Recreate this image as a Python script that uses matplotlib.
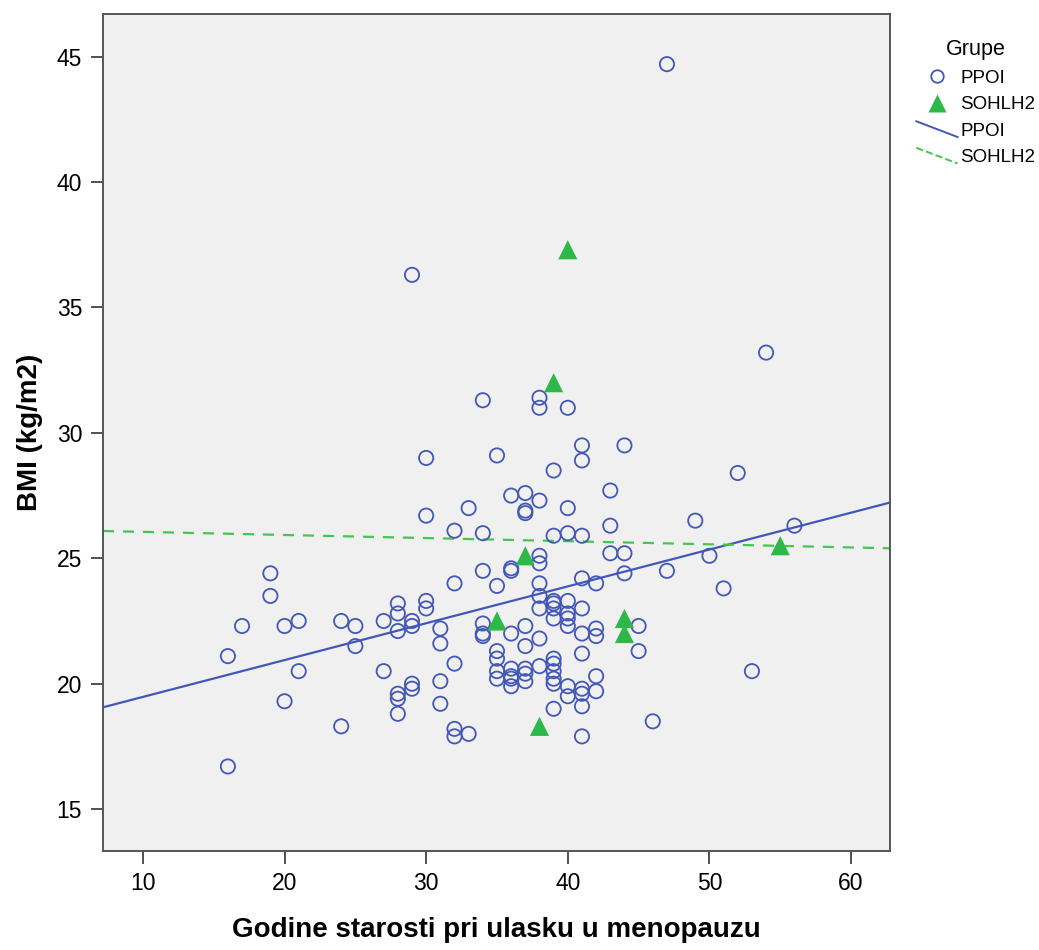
import numpy as np
import matplotlib
matplotlib.use("Agg")
import matplotlib.pyplot as plt
from matplotlib.lines import Line2D
from matplotlib.legend_handler import HandlerLine2D

# Age at menopause (years) and BMI (kg/m2), group PPOI
ppoi_age = [16, 16, 17, 19, 19, 20, 20, 21, 21, 24, 24, 25, 25, 27, 27,
            28, 28, 28, 28, 28, 28, 29, 29, 29, 29, 29, 30, 30, 30, 30,
            31, 31, 31, 31, 32, 32, 32, 32, 32, 33, 33,
            34, 34, 34, 34, 34, 34, 35, 35, 35, 35, 35, 35,
            36, 36, 36, 36, 36, 36, 36, 36,
            37, 37, 37, 37, 37, 37, 37, 37,
            38, 38, 38, 38, 38, 38, 38, 38, 38, 38,
            39, 39, 39, 39, 39, 39, 39, 39, 39, 39, 39, 39,
            40, 40, 40, 40, 40, 40, 40, 40, 40,
            41, 41, 41, 41, 41, 41, 41, 41, 41, 41, 41,
            42, 42, 42, 42, 42, 43, 43, 43, 44, 44, 44, 45, 45, 46,
            47, 47, 49, 50, 51, 52, 53, 54, 56]
ppoi_bmi = [16.7, 21.1, 22.3, 24.4, 23.5, 22.3, 19.3, 22.5, 20.5, 22.5, 18.3, 22.3, 21.5, 22.5, 20.5,
            23.2, 22.8, 22.1, 19.6, 19.4, 18.8, 36.3, 22.5, 22.3, 20.0, 19.8, 29.0, 26.7, 23.3, 23.0,
            22.2, 21.6, 20.1, 19.2, 26.1, 24.0, 20.8, 18.2, 17.9, 27.0, 18.0,
            31.3, 26.0, 24.5, 22.4, 22.0, 21.9, 29.1, 23.9, 21.3, 21.0, 20.5, 20.2,
            27.5, 24.6, 24.5, 22.0, 20.6, 20.3, 19.9, 20.2,
            27.6, 26.9, 26.8, 22.3, 21.5, 20.6, 20.4, 20.1,
            31.4, 31.0, 27.3, 25.1, 24.8, 24.0, 23.5, 23.0, 21.8, 20.7,
            28.5, 25.9, 23.3, 23.2, 23.0, 22.6, 21.0, 20.8, 20.5, 20.2, 20.0, 19.0,
            31.0, 27.0, 26.0, 23.3, 22.8, 22.6, 22.3, 19.9, 19.5,
            29.5, 28.9, 25.9, 24.2, 23.0, 22.0, 21.2, 19.8, 19.6, 19.1, 17.9,
            24.0, 22.2, 21.9, 20.3, 19.7, 27.7, 26.3, 25.2, 29.5, 25.2, 24.4, 22.3, 21.3, 18.5,
            44.7, 24.5, 26.5, 25.1, 23.8, 28.4, 20.5, 33.2, 26.3]

# Group SOHLH2
sohlh2_age = [35, 37, 38, 39, 40, 44, 44, 55]
sohlh2_bmi = [22.5, 25.1, 18.3, 32.0, 37.3, 22.6, 22.0, 25.5]

x_ticks = [10, 20, 30, 40, 50, 60]
y_ticks = [15, 20, 25, 30, 35, 40, 45]

blue = "#4257B8"
green = "#2EB84A"
green_line = "#45C650"

plt.rcParams["font.family"] = ["Liberation Sans Narrow", "Liberation Sans", "DejaVu Sans"]


class DiagonalLineHandler(HandlerLine2D):
    def create_artists(self, legend, orig_handle, xdescent, ydescent,
                       width, height, fontsize, trans):
        line = Line2D([-xdescent, -xdescent + width],
                      [-ydescent + height * 1.1, -ydescent - height * 0.1],
                      color=orig_handle.get_color(),
                      linestyle=orig_handle.get_linestyle(),
                      linewidth=orig_handle.get_linewidth())
        line.set_transform(trans)
        return [line]


fig = plt.figure(figsize=(10.39, 9.5), dpi=100)
ax = fig.add_axes([0.0991, 0.1042, 0.7575, 0.8811])
ax.set_facecolor("#F0F0F0")

xlim = (7.18, 62.75)
ax.set_xlim(*xlim)
ax.set_ylim(13.33, 46.7)

ax.scatter(ppoi_age, ppoi_bmi, s=105, facecolors="none", edgecolors=blue,
           linewidths=1.3, zorder=3)
ax.scatter(sohlh2_age, sohlh2_bmi, s=190, marker="^", color=green,
           edgecolors="none", zorder=4)

# Least-squares fit lines for each group
xs = np.array(xlim)
b1, a1 = np.polyfit(ppoi_age, ppoi_bmi, 1)
b2, a2 = np.polyfit(sohlh2_age, sohlh2_bmi, 1)
ax.plot(xs, a1 + b1 * xs, color=blue, lw=1.6, zorder=2)
ax.plot(xs, a2 + b2 * xs, color=green_line, lw=1.6, ls=(0, (5, 4)), zorder=2)

ax.set_xticks(x_ticks)
ax.set_yticks(y_ticks)
ax.tick_params(direction="out", length=9, width=1.2, color="#333333",
               labelsize=16.5, pad=6)
for sp in ax.spines.values():
    sp.set_color("#555555")
    sp.set_linewidth(1.4)

ax.set_xlabel("Godine starosti pri ulasku u menopauzu", fontsize=20,
              fontweight="bold", labelpad=16)
ax.set_ylabel("BMI (kg/m2)", fontsize=20, fontweight="bold", labelpad=10)

handles = [
    Line2D([], [], marker="o", ls="none", markersize=9, markerfacecolor="none",
           markeredgecolor=blue, markeredgewidth=1.3),
    Line2D([], [], marker="^", ls="none", markersize=13, color=green,
           markeredgecolor="none"),
    Line2D([], [], color=blue, lw=1.4),
    Line2D([], [], color=green_line, lw=1.4, ls=(0, (4, 4))),
]
labels = ["PPOI", "SOHLH2", "PPOI", "SOHLH2"]
leg = ax.legend(handles, labels, title="Grupe", loc="upper left",
                bbox_to_anchor=(1.012, 0.99), frameon=False, fontsize=13.5,
                title_fontsize=15.5, handlelength=2.2, handletextpad=0.15,
                labelspacing=0.5,
                handler_map={handles[2]: DiagonalLineHandler(),
                             handles[3]: DiagonalLineHandler()})
leg._legend_box.align = "center"

fig.savefig("out.png", dpi=100, facecolor="white")
